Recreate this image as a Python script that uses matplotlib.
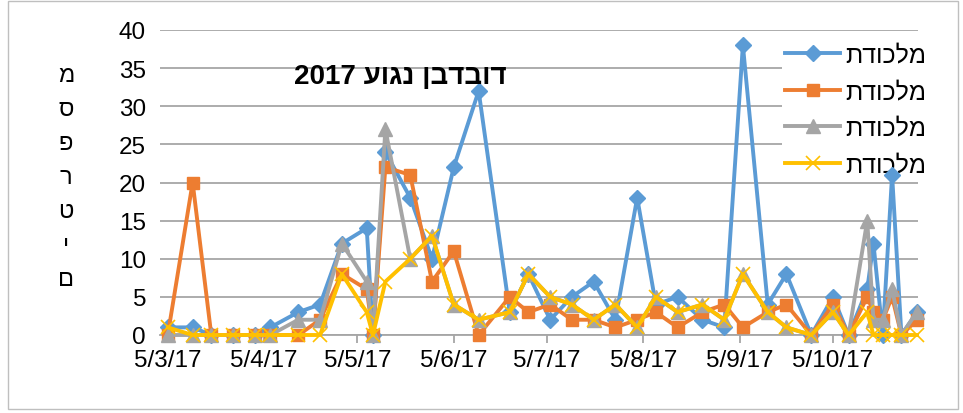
import datetime as dt
import matplotlib
matplotlib.use("Agg")
import matplotlib.pyplot as plt
from matplotlib.patches import Rectangle

# Fonts (Arial-like, with Hebrew glyphs)
plt.rcParams['font.family'] = ['Liberation Sans', 'DejaVu Sans']

# Office palette
C_BLUE = '#5B9BD5'
C_ORANGE = '#ED7D31'
C_GRAY = '#A5A5A5'
C_YELLOW = '#FFC000'
C_GRID = '#A6A6A6'

# Data
dates = ['2017-03-05', '2017-03-13', '2017-03-19', '2017-03-26', '2017-04-02',
         '2017-04-07', '2017-04-16', '2017-04-23', '2017-04-30', '2017-05-08',
         '2017-05-10', '2017-05-14', '2017-05-22', '2017-05-29', '2017-06-05',
         '2017-06-13', '2017-06-23', '2017-06-29', '2017-07-06', '2017-07-13',
         '2017-07-20', '2017-07-27', '2017-08-03', '2017-08-09', '2017-08-16',
         '2017-08-24', '2017-08-31', '2017-09-06', '2017-09-14', '2017-09-20',
         '2017-09-28', '2017-10-05', '2017-10-10', '2017-10-16', '2017-10-18',
         '2017-10-21', '2017-10-24', '2017-10-27', '2017-11-01']
trap1 = [1, 1, 0, 0, 0, 1, 3, 4, 12, 14, 0, 24, 18, 10, 22, 32, 3, 8, 2, 5,
         7, 2, 18, 4, 5, 2, 1, 38, 4, 8, 0, 5, 0, 6, 12, 0, 21, 0, 3]
trap2 = [0, 20, 0, 0, 0, 0, 0, 2, 8, 6, 0, 22, 21, 7, 11, 0, 5, 3, 4, 2,
         2, 1, 2, 3, 1, 3, 4, 1, 3, 4, 0, 4, 0, 5, 3, 2, 5, 0, 2]
trap3 = [0, 0, 0, 0, 0, 0, 2, 2, 12, 7, 0, 27, 10, 13, 4, 2, 3, 8, 5, 4,
         2, 4, 1, 5, 3, 4, 2, 8, 3, 1, 0, 3, 0, 15, 2, 2, 6, 0, 3]
trap4 = [1, 0, 0, 0, 0, 0, 0, 0, 8, 3, 0, 7, 10, 13, 4, 2, 3, 8, 5, 4,
         2, 4, 1, 5, 3, 4, 2, 8, 3, 1, 0, 3, 0, 3, 0, 0, 0, 0, 0]

tick_dates = ['2017-03-05', '2017-04-05', '2017-05-05', '2017-06-05',
              '2017-07-05', '2017-08-05', '2017-09-05', '2017-10-05']
tick_labels = ['5/3/17', '5/4/17', '5/5/17', '5/6/17',
               '5/7/17', '5/8/17', '5/9/17', '5/10/17']

# Hebrew text written in visual (left-to-right) order
series_label = 'תדוכלמ'            # מלכודת
title_text = '2017 עוגנ ןבדבוד'    # דובדבן נגוע 2017
ylabel_letters = ['מ', 'ס', 'פ', 'ר', 'ט', 'י', 'ם']


def to_dt(s):
    return dt.datetime.strptime(s, '%Y-%m-%d')


x = [to_dt(d) for d in dates]

fig = plt.figure(figsize=(9.63, 4.14), dpi=100)
ax = fig.add_axes([160 / 963, 1 - 336 / 414, 758 / 963, 305 / 414])

# Series
ax.plot(x, trap1, color=C_BLUE, lw=2.8, marker='D', ms=8, label=series_label,
        clip_on=False, zorder=3)
ax.plot(x, trap2, color=C_ORANGE, lw=2.8, marker='s', ms=9, label=series_label,
        clip_on=False, zorder=3.1)
ax.plot(x, trap3, color=C_GRAY, lw=2.8, marker='^', ms=10, label=series_label,
        clip_on=False, zorder=3.2)
ax.plot(x, trap4, color=C_YELLOW, lw=2.8, marker='x', ms=10, mew=1.2,
        label=series_label, clip_on=False, zorder=3.3)

# Axes formatting
ax.set_ylim(0, 40)
ax.set_yticks(range(0, 41, 5))
ax.set_xlim(to_dt('2017-03-02') + dt.timedelta(hours=12),
            to_dt('2017-11-01') + dt.timedelta(hours=8))
ax.set_xticks([to_dt(d) for d in tick_dates])
ax.set_xticklabels(tick_labels)

ax.yaxis.grid(True, color=C_GRID, lw=1.3)
ax.set_axisbelow(True)
for side in ['left', 'right', 'top']:
    ax.spines[side].set_visible(False)
ax.spines['bottom'].set_color(C_GRID)
ax.spines['bottom'].set_linewidth(1.3)
ax.tick_params(axis='x', length=6, color=C_GRID, width=1.3, labelsize=17.5, pad=4)
ax.tick_params(axis='y', length=0, labelsize=17.5, pad=10)

# Title (inside plot area)
fig.text(400 / 963, 1 - 77 / 414, title_text, ha='center', va='center',
         fontsize=20, fontweight='bold')

# Stacked y-axis label
for i, letter in enumerate(ylabel_letters):
    fig.text(66 / 963, 1 - (76 + i * 34) / 414, letter, ha='center',
             va='center', fontsize=17)

# Legend: white box over the gridlines, but under the series lines
leg = ax.legend(loc='upper right', bbox_to_anchor=(930 / 963, 1 - 40 / 414),
                bbox_transform=fig.transFigure, fontsize=18, frameon=True,
                handlelength=2.2, handletextpad=0.2, labelspacing=0.5,
                borderpad=0.15, borderaxespad=0)
leg.get_frame().set_facecolor('white')
leg.get_frame().set_edgecolor('none')
leg.get_frame().set_alpha(1)
leg.set_zorder(2)

# Chart border
fig.add_artist(Rectangle((8 / 963, 4 / 414), 950 / 963, 408 / 414,
                         transform=fig.transFigure, fill=False,
                         edgecolor='#BFBFBF', lw=1))

plt.savefig('out.png', dpi=100)
plt.close()
